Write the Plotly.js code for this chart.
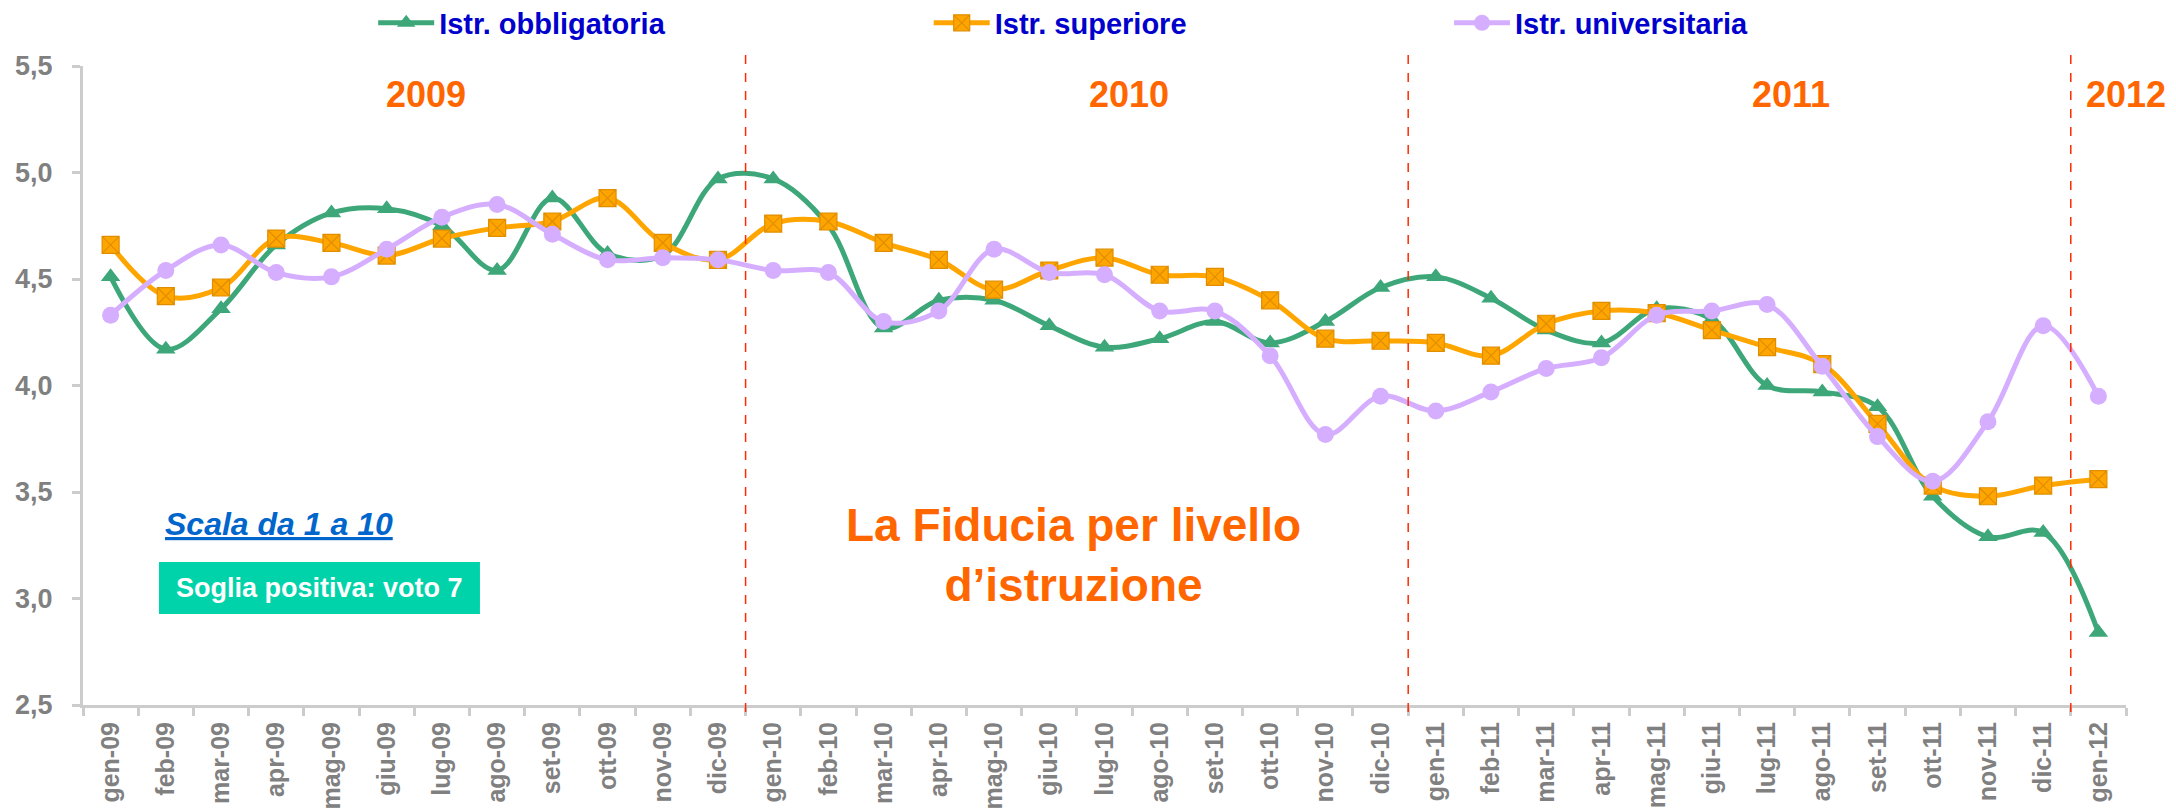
<!DOCTYPE html>
<html>
<head>
<meta charset="utf-8">
<script src="https://cdn.plot.ly/plotly-3.0.1.min.js"></script>
<style>
html,body{margin:0;padding:0;background:#fff;}
#chart{width:2176px;height:812px;}
</style>
</head>
<body>
<div id="chart"></div>
<script>
// ---- data ----
var months = ["gen-09","feb-09","mar-09","apr-09","mag-09","giu-09","lug-09","ago-09","set-09","ott-09","nov-09","dic-09",
              "gen-10","feb-10","mar-10","apr-10","mag-10","giu-10","lug-10","ago-10","set-10","ott-10","nov-10","dic-10",
              "gen-11","feb-11","mar-11","apr-11","mag-11","giu-11","lug-11","ago-11","set-11","ott-11","nov-11","dic-11",
              "gen-12"];
var obbligatoria = [4.51,4.17,4.36,4.66,4.81,4.83,4.75,4.54,4.88,4.62,4.61,4.97,
                    4.97,4.75,4.27,4.40,4.40,4.28,4.18,4.22,4.30,4.20,4.30,4.46,
                    4.51,4.41,4.26,4.20,4.36,4.31,4.00,3.97,3.90,3.48,3.29,3.31,
                    2.84];
var superiore    = [4.66,4.42,4.46,4.69,4.67,4.61,4.69,4.74,4.77,4.88,4.67,4.59,
                    4.76,4.77,4.67,4.59,4.45,4.54,4.60,4.52,4.51,4.40,4.22,4.21,
                    4.20,4.14,4.29,4.35,4.34,4.26,4.18,4.10,3.82,3.53,3.48,3.53,
                    3.56];
var universitaria= [4.33,4.54,4.66,4.53,4.51,4.64,4.79,4.85,4.71,4.59,4.60,4.59,
                    4.54,4.53,4.30,4.35,4.64,4.53,4.52,4.35,4.35,4.14,3.77,3.95,
                    3.88,3.97,4.08,4.13,4.33,4.35,4.38,4.09,3.76,3.55,3.83,4.28,
                    3.95];
var seriesNames = ["Istr. obbligatoria","Istr. superiore","Istr. universitaria"];
var yearLabels = ["2009","2010","2011","2012"];
var yearDividers = [11.5, 23.5, 35.5];

// ---- styling ----
var FONT = "Arial, 'Liberation Sans', sans-serif";
var GREEN = "#3DA77A", ORANGE = "#FFA500", PURPLE = "#D6AEFF";

function tr(y, name, color, symbol, legendId, mline) {
  return {
    type: "scatter", mode: "lines+markers", x: months, y: y, name: name,
    legend: legendId,
    line: {color: color, width: 5, shape: "spline", smoothing: 1},
    marker: {color: color, size: 17, symbol: symbol, line: mline || {width: 0}},
    hoverinfo: "x+y"
  };
}
var data = [
  tr(obbligatoria, seriesNames[0], GREEN, "triangle-up", "legend"),
  tr(superiore, seriesNames[1], ORANGE, "square-x", "legend2", {color: "#E08E00", width: 1.2}),
  tr(universitaria, seriesNames[2], PURPLE, "circle", "legend3")
];

var legFont = {family: FONT, size: 29, color: "#0000CC", weight: "bold"};
function leg(x) {
  return {orientation: "h", xref: "container", yref: "container",
          x: x, xanchor: "left", y: 0.9717, yanchor: "middle",
          font: legFont, bgcolor: "rgba(0,0,0,0)", itemwidth: 56, borderwidth: 0};
}

var shapes = yearDividers.map(function (xv) {
  return {type: "line", xref: "x", yref: "paper", x0: xv, x1: xv, y0: -0.011, y1: 1.026,
          line: {color: "#FF2A00", width: 1.5, dash: "dash"}};
});
shapes.push({type: "rect", xref: "paper", yref: "paper", x0: 0.0372, x1: 0.1943, y0: 0.1424, y1: 0.2238,
             fillcolor: "#00D2AA", line: {width: 0}, layer: "above"});

var yearX = [0.168, 0.512, 0.836, 1.0];
var annotations = yearLabels.map(function (t, i) {
  return {text: "<b>" + t + "</b>", xref: "paper", yref: "paper", x: yearX[i], y: 0.955,
          xanchor: "center", yanchor: "middle", showarrow: false,
          font: {family: FONT, size: 36, color: "#FF6600"}};
});
annotations.push({text: "<b>La Fiducia per livello<br>d’istruzione</b>", xref: "paper", yref: "paper",
                  x: 0.485, y: 0.235, xanchor: "center", yanchor: "middle", showarrow: false, align: "center",
                  font: {family: FONT, size: 46, color: "#FF6600"}});
annotations.push({text: "<b><i><u>Scala da 1 a 10</u></i></b>", xref: "paper", yref: "paper",
                  x: 0.039, y: 0.283, xanchor: "left", yanchor: "middle", showarrow: false,
                  font: {family: FONT, size: 32, color: "#0066CC"}});
annotations.push({text: "<b>Soglia positiva: voto 7</b>", xref: "paper", yref: "paper",
                  x: 0.1157, y: 0.183, xanchor: "center", yanchor: "middle", showarrow: false,
                  font: {family: FONT, size: 27, color: "#FFFFFF"}});

var layout = {
  width: 2176, height: 812,
  margin: {l: 83, r: 50, t: 66, b: 107, pad: 0, autoexpand: false},
  paper_bgcolor: "#FFFFFF", plot_bgcolor: "#FFFFFF",
  separators: ",.",
  showlegend: true,
  legend: leg(0.1715), legend2: leg(0.4268), legend3: leg(0.6659),
  xaxis: {type: "category", range: [-0.5, 36.5], showgrid: false, zeroline: false, automargin: false,
          showline: true, linecolor: "#CCCCCC", linewidth: 3,
          ticks: "outside", tickson: "boundaries", ticklen: 8, tickwidth: 3, tickcolor: "#CCCCCC",
          tickangle: -90, ticklabelstandoff: 4,
          tickfont: {family: FONT, size: 25, color: "#808080", weight: "bold"}},
  yaxis: {range: [2.5, 5.5], dtick: 0.5, tick0: 2.5, tickformat: ".1f", showgrid: false, zeroline: false, automargin: false,
          showline: true, linecolor: "#CCCCCC", linewidth: 3,
          ticks: "outside", ticklen: 8, tickwidth: 3, tickcolor: "#CCCCCC", ticklabelstandoff: 14,
          tickfont: {family: FONT, size: 27, color: "#808080", weight: "bold"}},
  shapes: shapes,
  annotations: annotations
};

Plotly.newPlot("chart", data, layout, {displayModeBar: false, staticPlot: true});
</script>
</body>
</html>
